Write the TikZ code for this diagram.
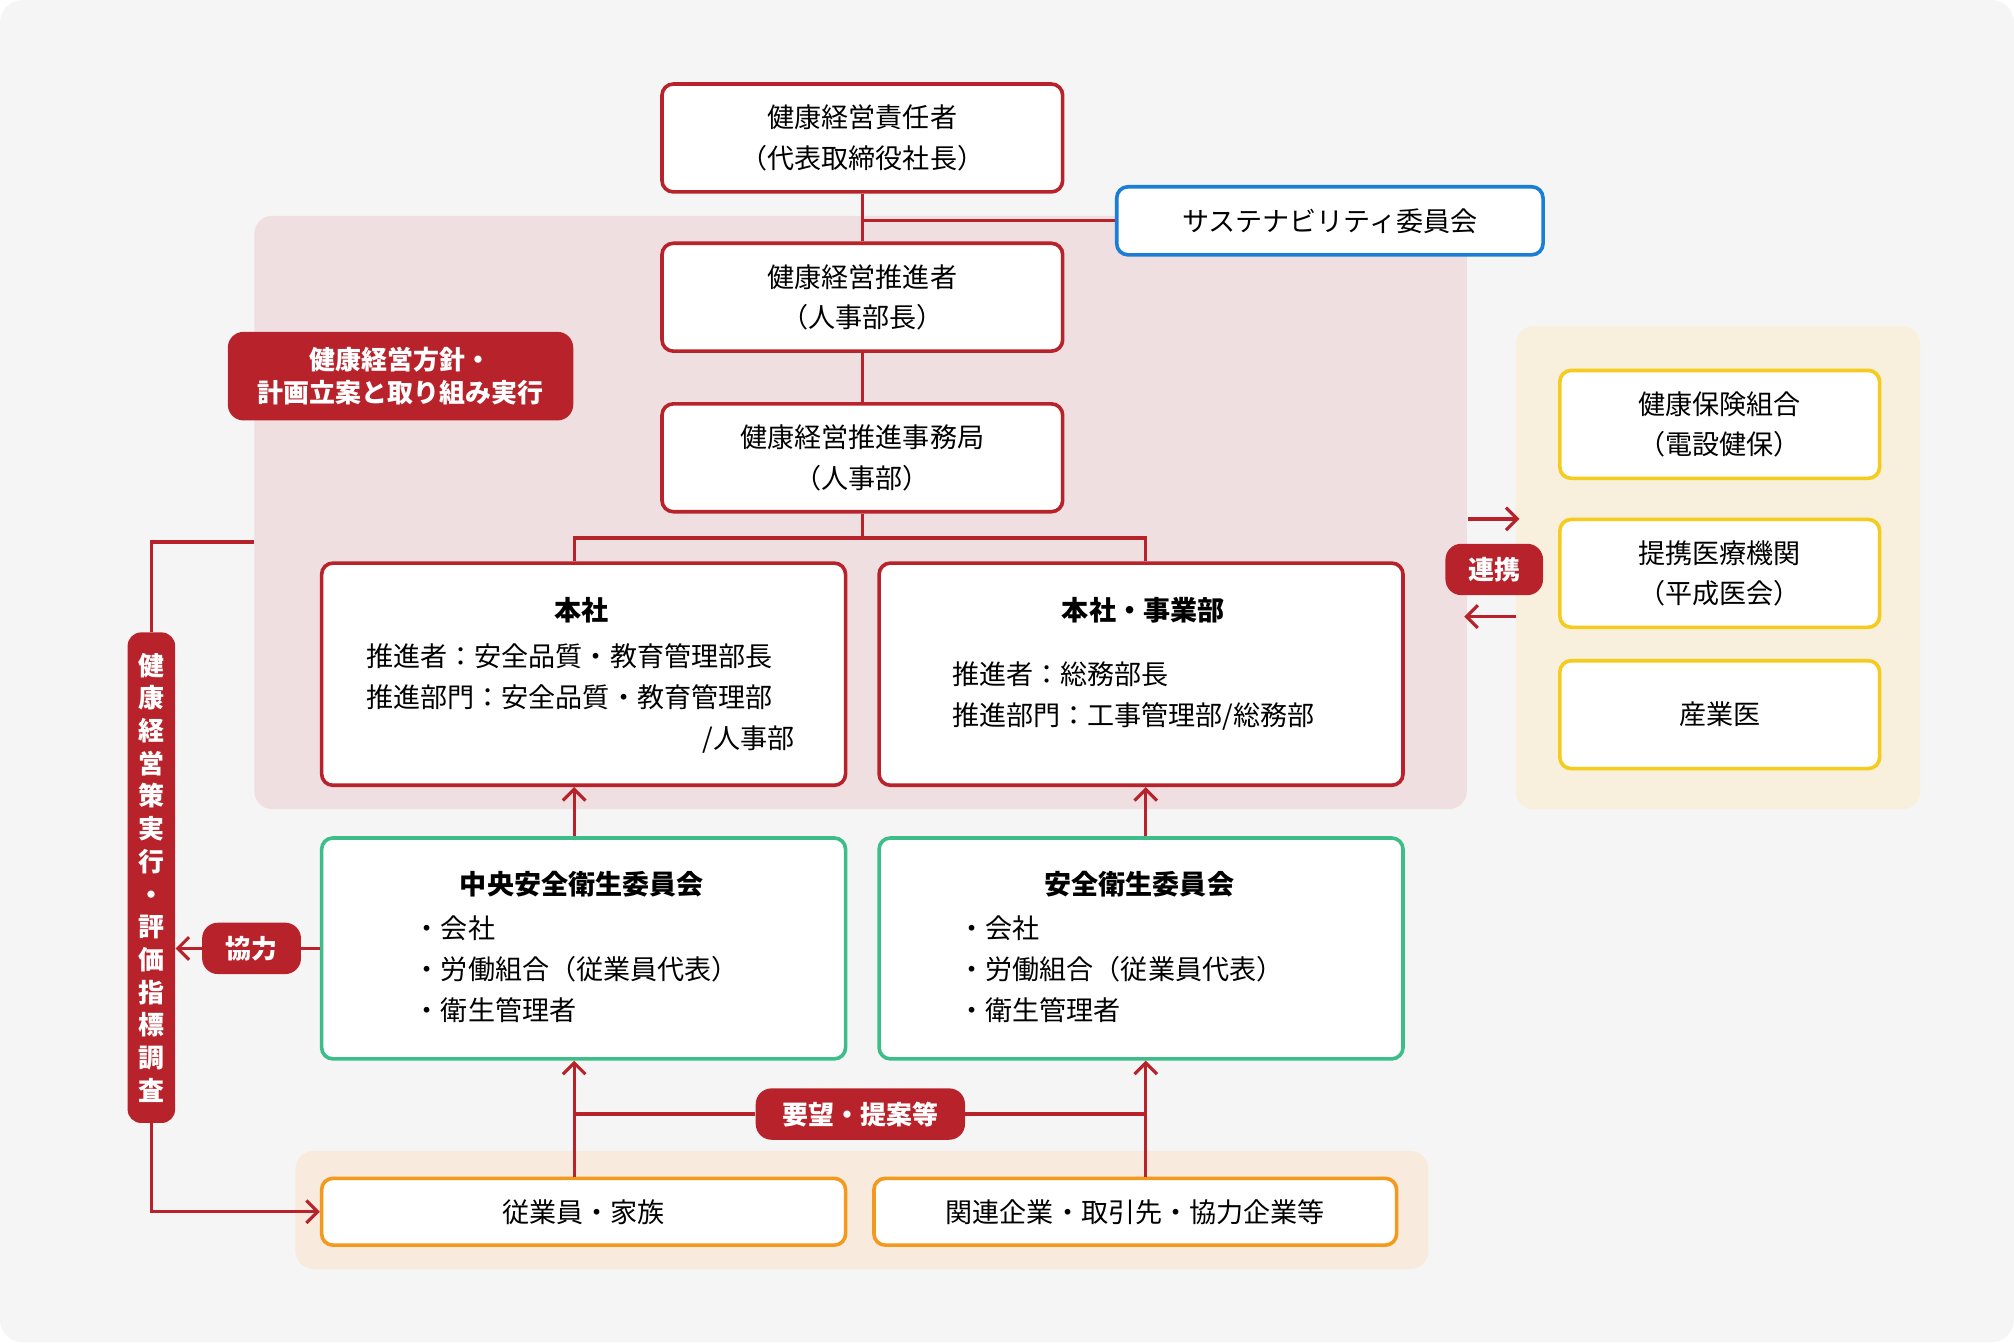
\documentclass[tikz,border=0pt]{standalone}
\usepackage{fontspec}
\setmainfont{Noto Sans CJK JP}
\usetikzlibrary{arrows.meta,positioning}
\definecolor{kred}{HTML}{B8232B}
\definecolor{kblue}{HTML}{1A7FD4}
\definecolor{kgreen}{HTML}{3DBD8A}
\definecolor{korange}{HTML}{F39A1E}
\definecolor{kyellow}{HTML}{F5CC1D}
\definecolor{kpink}{HTML}{EFDFE1}
\definecolor{kcream}{HTML}{F8F0DC}
\definecolor{kpeach}{HTML}{F8EADC}
\begin{document}
\begin{tikzpicture}[x=0.02cm,y=-0.02cm,font=\fontsize{12}{18}\selectfont]
\tikzset{
  box/.style={draw=#1, line width=1.6pt, rounded corners=5pt, fill=white,
    anchor=north west, align=center, inner sep=0pt},
  tag/.style={fill=kred, text=white, font=\fontsize{11.5}{15}\selectfont\bfseries,
    rounded corners=7pt, align=center, inner sep=0pt, anchor=north west},
  head/.style={font=\fontsize{12}{18}\selectfont\bfseries},
  link/.style={draw=kred, line width=1.4pt},
  arr/.style={link, -{Straight Barb[length=5pt,width=10pt]}}
}
% backgrounds
\fill[gray!8, rounded corners=10pt] (0,0) rectangle (1568,1045);
\fill[kpink, rounded corners=8pt] (198,168) rectangle (1142,630);
\fill[kcream, rounded corners=8pt] (1180,254) rectangle (1495,630);
\fill[kpeach, rounded corners=8pt] (230,896) rectangle (1112,988);
% top column
\node[box=kred, minimum width=6.24cm, minimum height=1.68cm] (ceo) at (514,64) {健康経営責任者\\（代表取締役社長）};
\node[box=kblue, minimum width=6.64cm, minimum height=1.06cm] (sus) at (868,144) {サステナビリティ委員会};
\node[box=kred, minimum width=6.24cm, minimum height=1.68cm] (prom) at (514,188) {健康経営推進者\\（人事部長）};
\node[box=kred, minimum width=6.24cm, minimum height=1.68cm] (office) at (514,313) {健康経営推進事務局\\（人事部）};
\node[tag, minimum width=5.38cm, minimum height=1.38cm] (policy) at (177,258) {健康経営方針・\\計画立案と取り組み実行};
% head office boxes
\node[box=kred, minimum width=8.16cm, minimum height=3.46cm] (hq) at (249,437) {};
\node[head] at (453,475) {本社};
\node[anchor=north west, align=left] at (279,495) {推進者：安全品質・教育管理部長\\推進部門：安全品質・教育管理部};
\node[anchor=north east] at (625,559) {/人事部};
\node[box=kred, minimum width=8.16cm, minimum height=3.46cm] (div) at (683,437) {};
\node[head] at (890,475) {本社・事業部};
\node[anchor=north west, align=left] at (735,509) {推進者：総務部長\\推進部門：工事管理部/総務部};
% committees
\node[box=kgreen, minimum width=8.16cm, minimum height=3.44cm] (ccom) at (249,651) {};
\node[head] at (453,688) {中央安全衛生委員会};
\node[anchor=north west, align=left] at (316,707) {・会社\\・労働組合（従業員代表）\\・衛生管理者};
\node[box=kgreen, minimum width=8.16cm, minimum height=3.44cm] (scom) at (683,651) {};
\node[head] at (887,688) {安全衛生委員会};
\node[anchor=north west, align=left] at (740,707) {・会社\\・労働組合（従業員代表）\\・衛生管理者};
% bottom
\node[box=korange, minimum width=8.16cm, minimum height=1.04cm] (emp) at (249,916) {従業員・家族};
\node[box=korange, minimum width=8.14cm, minimum height=1.04cm] (rel) at (679,916) {関連企業・取引先・協力企業等};
\coordinate (empup) at (447,916);
\coordinate (relup) at (892,916);
% right side
\node[box=kyellow, minimum width=4.98cm, minimum height=1.68cm] (kenpo) at (1213,287) {健康保険組合\\（電設健保）};
\node[box=kyellow, minimum width=4.98cm, minimum height=1.68cm] (med) at (1213,403) {提携医療機関\\（平成医会）};
\node[box=kyellow, minimum width=4.98cm, minimum height=1.68cm] (doc) at (1213,513) {産業医};
\node[tag, minimum width=1.52cm, minimum height=0.8cm] (coop) at (1125,423) {連携};
\coordinate (coopr1) at (1143,404);
\coordinate (coopr2) at (1183,404);
\coordinate (coopl1) at (1180,480);
\coordinate (coopl2) at (1140,480);
% left side
\node[tag, minimum width=0.74cm, minimum height=7.64cm, rounded corners=6pt, font=\fontsize{11.5}{14.5}\selectfont\bfseries] (eval) at (99,492)
  {健\\康\\経\\営\\策\\実\\行\\・\\評\\価\\指\\標\\調\\査};
\node[tag, minimum width=1.54cm, minimum height=0.8cm] (kyo) at (157,718) {協力};
\coordinate (pinkleft) at (198,422);
% connectors
\draw[link] (ceo.south) -- (prom.north);
\draw[link] (ceo.south |- sus.west) -- (sus.west);
\draw[link] (prom.south) -- (office.north);
\draw[link] (office.south) -- ++(0,19) -| (447,437);
\draw[link] (office.south) -- ++(0,19) -| (892,437);
\draw[arr] (empup |- ccom.north) -- (empup |- hq.south);
\draw[arr] (relup |- scom.north) -- (relup |- div.south);
\node[tag, minimum width=3.26cm, minimum height=0.8cm] (req) at (588,847) {要望・提案等};
\draw[arr] (empup) -- (empup |- ccom.south);
\draw[arr] (relup) -- (relup |- scom.south);
\draw[link] (empup |- req.west) -- (req.west);
\draw[link] (req.east) -- (relup |- req.east);
\draw[arr] (ccom.west) -- (eval.east |- ccom.west);
\draw[link] (pinkleft) -| (eval.north);
\draw[arr] (eval.south) |- (emp.west);
\draw[arr] (coopr1) -- (coopr2);
\draw[arr] (coopl1) -- (coopl2);
\end{tikzpicture}
\end{document}
